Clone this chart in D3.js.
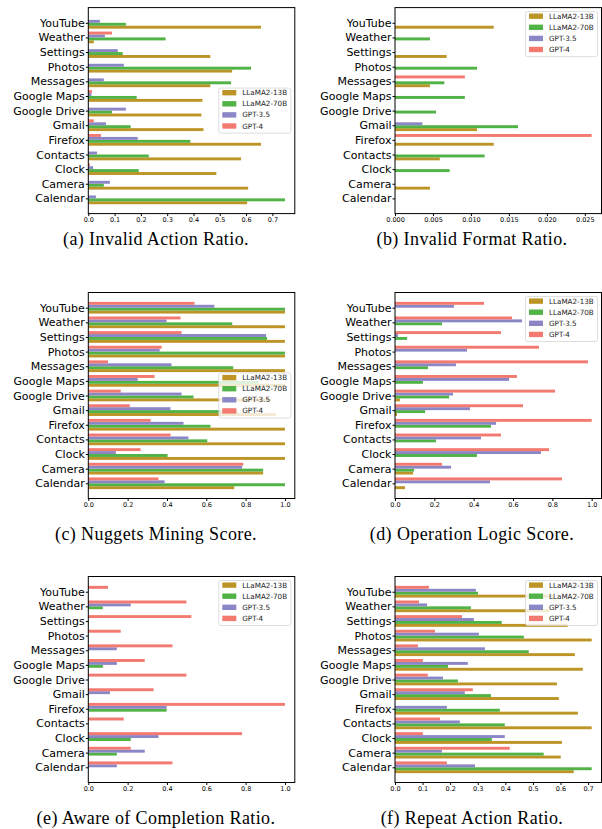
<!DOCTYPE html>
<html lang="en">
  <head>
    <meta charset="utf-8">
    <title>Agent metrics per app</title>
    <style>
      body { margin: 0; background: #fff; }
      .axis text { font-family: "DejaVu Sans", sans-serif; fill: #000; }
      .caption { font-family: "Liberation Serif", "DejaVu Serif", serif; font-size: 18px; letter-spacing: 0.4px; }
      .legend text { font-family: "DejaVu Sans", sans-serif; font-size: 7.2px; fill: #222; }
    </style>
  </head>
  <body>

<script src="https://d3js.org/d3.v7.min.js"></script>

<script>
// apps, bottom (index 0) to top
var apps = ["Calendar", "Camera", "Clock", "Contacts", "Firefox", "Gmail", "Google Drive",
            "Google Maps", "Messages", "Photos", "Settings", "Weather", "YouTube"];
var models = ["LLaMA2-13B", "LLaMA2-70B", "GPT-3.5", "GPT-4"];
var colors = ["#bd9527", "#51b245", "#8b86c5", "#f27a71"];

// values per model (13B, 70B, GPT-3.5, GPT-4), each list in apps order
var invalidAction = [
  [0.604, 0.608, 0.487, 0.581, 0.657, 0.438, 0.430, 0.434, 0.464, 0.547, 0.464, 0.021, 0.657],
  [0.748, 0.059, 0.192, 0.230, 0.388, 0.161, 0.090, 0.184, 0.543, 0.619, 0.131, 0.294, 0.143],
  [0.029, 0.082, 0.018, 0.033, 0.188, 0.067, 0.143, 0.012, 0.059, 0.135, 0.112, 0.063, 0.044],
  [0, 0, 0.006, 0, 0.048, 0.021, 0, 0.014, 0, 0, 0, 0.090, 0]
];
var invalidFormat = [
  [0, 0.0046, 0, 0.0059, 0.0130, 0.0108, 0, 0, 0.0046, 0, 0.0068, 0, 0.0130],
  [0, 0, 0.0072, 0.0118, 0, 0.0162, 0.0054, 0.0092, 0.0065, 0.0108, 0, 0.0046, 0],
  [0, 0, 0, 0, 0, 0.0036, 0, 0, 0, 0, 0, 0, 0],
  [0, 0, 0, 0, 0.0259, 0, 0, 0, 0.0092, 0, 0, 0, 0]
];
var nuggetsMining = [
  [0.742, 0.889, 1.0, 1.0, 1.0, 0.954, 0.93, 1.0, 1.0, 1.0, 1.0, 1.0, 1.0],
  [1.0, 0.889, 0.403, 0.605, 0.621, 0.76, 0.535, 0.863, 0.737, 1.0, 0.909, 0.732, 1.0],
  [0.388, 0.782, 0.140, 0.509, 0.484, 0.418, 0.474, 0.251, 0.423, 0.363, 0.904, 0.398, 0.641],
  [0.357, 0.788, 0.266, 0.418, 0.317, 0.211, 0.165, 0.337, 0.100, 0.373, 0.474, 0.469, 0.540]
];
var operationLogic = [
  [0.051, 0.092, 0, 0, 0, 0.010, 0.025, 0, 0, 0, 0, 0, 0],
  [0, 0.097, 0.417, 0.208, 0.488, 0.153, 0.275, 0.142, 0.168, 0, 0.061, 0.239, 0],
  [0.483, 0.285, 0.742, 0.437, 0.514, 0.381, 0.295, 0.580, 0.310, 0.366, 0.015, 0.646, 0.300],
  [0.849, 0.239, 0.783, 0.539, 1.0, 0.651, 0.814, 0.620, 0.981, 0.732, 0.539, 0.595, 0.453]
];
var awareCompletion = [
  [0, 0, 0, 0, 0, 0, 0, 0, 0, 0, 0, 0, 0],
  [0, 0.145, 0.216, 0, 0.398, 0, 0, 0.074, 0, 0, 0, 0.074, 0],
  [0.145, 0.287, 0.357, 0, 0.398, 0.110, 0, 0.145, 0.145, 0, 0, 0.216, 0],
  [0.428, 0.216, 0.782, 0.180, 1.0, 0.332, 0.499, 0.287, 0.428, 0.165, 0.524, 0.499, 0.100]
];
var repeatAction = [
  [0.648, 0.601, 0.605, 0.713, 0.663, 0.594, 0.587, 0.681, 0.652, 0.713, 0.626, 0.56, 0.573],
  [0.713, 0.539, 0.351, 0.398, 0.380, 0.348, 0.228, 0.192, 0.485, 0.467, 0.387, 0.275, 0.301],
  [0.290, 0.170, 0.398, 0.235, 0.188, 0.253, 0.174, 0.264, 0.326, 0.304, 0.286, 0.116, 0.293],
  [0.188, 0.416, 0.101, 0.163, 0, 0.282, 0.119, 0.101, 0.083, 0.145, 0.243, 0.087, 0.123]
];

var panels = [
  {data: invalidAction,   caption: "(a) Invalid Action Ratio.",      col: 0, row: 0, step: 0.1,   fmt: ".1f", legend: "center"},
  {data: invalidFormat,   caption: "(b) Invalid Format Ratio.",      col: 1, row: 0, step: 0.005, fmt: ".3f", legend: "upper"},
  {data: nuggetsMining,   caption: "(c) Nuggets Mining Score.",      col: 0, row: 1, step: 0.2,   fmt: ".1f", legend: "center"},
  {data: operationLogic,  caption: "(d) Operation Logic Score.",     col: 1, row: 1, step: 0.2,   fmt: ".1f", legend: "upper"},
  {data: awareCompletion, caption: "(e) Aware of Completion Ratio.", col: 0, row: 2, step: 0.2,   fmt: ".1f", legend: "upper"},
  {data: repeatAction,    caption: "(f) Repeat Action Ratio.",       col: 1, row: 2, step: 0.1,   fmt: ".1f", legend: "upper"}
];

var W = 602, H = 829;
var colLeft = [88.3, 395], plotW = 206.5;
var rowTop = [7.6, 292.5, 576.5], plotH = 206;
var captionY = [245, 540, 824], captionX = [156, 472];

var svg = d3.select('body').append('svg')
  .attr('width', W)
  .attr('height', H);

panels.forEach(function(p) {
  var left = colLeft[p.col], top = rowTop[p.row];
  var g = svg.append('g')
    .attr('transform', 'translate(' + left + ',' + top + ')');

  var xmax = d3.max(p.data, function(s) { return d3.max(s); }) * 1.05;
  var x = d3.scaleLinear().domain([0, xmax]).range([0, plotW]);
  // matplotlib-like margins around the bar groups
  var y = d3.scaleLinear().domain([-1.04, apps.length - 1 + 1.04]).range([plotH, 0]);

  // bars
  p.data.forEach(function(series, k) {
    var off = (k - 1.5) * 0.2;
    g.selectAll('.bar' + k)
      .data(series)
      .enter()
      .append('rect')
        .attr('x', x(0))
        .attr('y', function(d, i) { return y(i + off + 0.1); })
        .attr('width', function(d) { return x(d) - x(0); })
        .attr('height', function(d, i) { return y(i + off - 0.1) - y(i + off + 0.1); })
        .attr('fill', colors[k]);
  });

  // axes
  var ticks = d3.range(0, xmax + 1e-9, p.step);
  g.append('g')
    .attr('class', 'axis')
    .attr('transform', 'translate(0,' + plotH + ')')
    .call(d3.axisBottom(x).tickValues(ticks).tickFormat(d3.format(p.fmt)).tickSize(2.5).tickPadding(1.5))
    .call(function(a) { a.select('.domain').remove(); })
    .selectAll('text').style('font-size', '6.5px');

  g.append('g')
    .attr('class', 'axis')
    .call(d3.axisLeft(y).tickValues(d3.range(apps.length)).tickFormat(function(i) { return apps[i]; })
      .tickSize(2.5).tickPadding(1))
    .call(function(a) { a.select('.domain').remove(); })
    .selectAll('text').style('font-size', '11px');

  g.append('rect')
    .attr('width', plotW)
    .attr('height', plotH)
    .attr('fill', 'none')
    .attr('stroke', '#000')
    .attr('stroke-width', 1);

  // legend
  var lw = 72, lh = 45;
  var lx = plotW - 4 - lw;
  var ly = p.legend === 'upper' ? 4 : (plotH - lh) / 2;
  var leg = g.append('g')
    .attr('class', 'legend')
    .attr('transform', 'translate(' + lx + ',' + ly + ')');
  leg.append('rect')
    .attr('width', lw)
    .attr('height', lh)
    .attr('rx', 2)
    .attr('fill', '#fff')
    .attr('fill-opacity', 0.8)
    .attr('stroke', '#d0d0d0')
    .attr('stroke-width', 0.7);
  models.forEach(function(m, k) {
    var cy = 4.6 + k * 11.1;
    leg.append('rect')
      .attr('x', 3.5)
      .attr('y', cy - 2.7)
      .attr('width', 14)
      .attr('height', 5.4)
      .attr('fill', colors[k]);
    leg.append('text')
      .attr('x', 23.5)
      .attr('y', cy)
      .attr('dy', '0.35em')
      .text(m);
  });

  svg.append('text')
    .attr('class', 'caption')
    .attr('x', captionX[p.col])
    .attr('y', captionY[p.row])
    .attr('text-anchor', 'middle')
    .text(p.caption);
});
</script>

  </body>
</html>
